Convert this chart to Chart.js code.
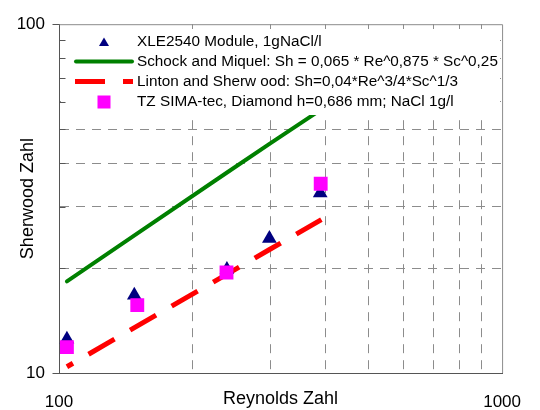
<!DOCTYPE html>
<html>
<head>
<meta charset="utf-8">
<script src="https://cdn.jsdelivr.net/npm/chart.js@4/dist/chart.umd.min.js"></script>
<style>
  body { margin: 0; background: #fff; }
  canvas { display: block; }
</style>
</head>
<body>
<canvas id="myChart" width="540" height="410"></canvas>
<script>
'use strict';
//Data
const xleRe = [104.2, 147.9, 239.3, 298.4, 388.6];
const xleSh = [12.5, 16.7, 19.8, 24.3, 32.8];
const lineRe = [104.2, 148, 239, 298, 391];
const schockSh = [18.3, 24.8, 37.5, 45.3, 57.0];
const lintonSh = [10.42, 13.49, 19.18, 22.56, 27.54];
const tzRe = [104.2, 150.2, 238.8, 389.6];
const tzSh = [11.86, 15.66, 19.41, 34.89];
//grid positions and labelled ticks
const xTicks = [100, 200, 300, 400, 500, 600, 700, 800, 900, 1000];
const yTicks = [10, 20, 30, 40, 50, 60, 70, 80, 90, 100];
const xTickLabels = [100, 1000];
const yTickLabels = [10, 100];
const seriesNames = [
  'XLE2540 Module, 1gNaCl/l',
  'Schock and Miquel: Sh = 0,065 * Re^0,875 * Sc^0,25',
  'Linton and Sherw ood: Sh=0,04*Re^3/4*Sc^1/3',
  'TZ SIMA-tec, Diamond h=0,686 mm; NaCl 1g/l'
];

const FONT = "'Liberation Sans', Arial, sans-serif";
const gridGrey = '#8c8c8c';
const axisGrey = '#555555';

function points(xs, ys){
  return xs.map((x, i) => ({x: x, y: ys[i]}));
}

function isLabel(list, v){
  return list.some(t => Math.abs(t - v) < 1e-6 * t);
}

//legend inside the plot, white box over grid
const boxLegend = {
  id: 'boxLegend',
  afterDatasetsDraw(chart){
    const ctx = chart.ctx;
    const a = chart.chartArea;
    ctx.save();
    ctx.fillStyle = '#fff';
    ctx.fillRect(a.left + 2, 29, 439, 86);

    const rowY = [42, 61.5, 81.5, 102];
    const symX = 104;
    const textX = 137;

    // triangle
    ctx.fillStyle = '#000080';
    ctx.beginPath();
    ctx.moveTo(symX, rowY[0] - 4.5);
    ctx.lineTo(symX + 5, rowY[0] + 4);
    ctx.lineTo(symX - 5, rowY[0] + 4);
    ctx.closePath();
    ctx.fill();

    // green line
    ctx.strokeStyle = '#008000';
    ctx.lineWidth = 4;
    ctx.lineCap = 'round';
    ctx.beginPath();
    ctx.moveTo(76, rowY[1]);
    ctx.lineTo(132, rowY[1]);
    ctx.stroke();

    // red dashed line
    ctx.strokeStyle = '#ff0000';
    ctx.lineWidth = 5;
    ctx.lineCap = 'butt';
    ctx.setLineDash([30, 18]);
    ctx.beginPath();
    ctx.moveTo(75, rowY[2]);
    ctx.lineTo(133, rowY[2]);
    ctx.stroke();
    ctx.setLineDash([]);

    // square
    ctx.fillStyle = '#ff00ff';
    ctx.fillRect(symX - 6.5, rowY[3] - 6.5, 13, 13);

    ctx.fillStyle = '#000';
    ctx.font = '15.3px ' + FONT;
    ctx.textBaseline = 'middle';
    ctx.textAlign = 'left';
    for(let i = 0; i < seriesNames.length; i++){
      ctx.fillText(seriesNames[i], textX, rowY[i]);
    }
    ctx.restore();
  }
};

//top/right frame and the small y ticks
const frame = {
  id: 'frame',
  afterDraw(chart){
    const ctx = chart.ctx;
    const a = chart.chartArea;
    const ys = chart.scales.y;
    ctx.save();
    ctx.lineWidth = 1;
    ctx.strokeStyle = gridGrey;
    ctx.beginPath();
    ctx.moveTo(a.left, a.top + 0.5);
    ctx.lineTo(a.right + 0.5, a.top + 0.5);
    ctx.lineTo(a.right + 0.5, a.bottom);
    ctx.stroke();

    ctx.strokeStyle = axisGrey;
    ctx.beginPath();
    ys.ticks.forEach(t => {
      const py = Math.round(ys.getPixelForValue(t.value)) + 0.5;
      const lx = Math.round(a.left) + 0.5;
      if(isLabel(yTickLabels, t.value)){
        ctx.moveTo(lx - 7, py);
        ctx.lineTo(lx, py);
      }else{
        ctx.moveTo(lx, py);
        ctx.lineTo(lx + 6, py);
      }
    });
    ctx.stroke();
    ctx.restore();
  }
};

const chart_myChart = document.getElementById('myChart').getContext('2d');
const chart = new Chart(chart_myChart, {
  type: 'scatter',
  data: {
    datasets: [{
      label: seriesNames[0],
      data: points(xleRe, xleSh),
      pointStyle: 'triangle',
      pointRadius: 8.5,
      backgroundColor: '#000080',
      borderColor: '#000080',
      borderWidth: 0,
      order: 1
    },
    {
      label: seriesNames[1],
      data: points(lineRe, schockSh),
      showLine: true,
      borderColor: '#008000',
      borderWidth: 4,
      borderCapStyle: 'round',
      pointRadius: 0,
      order: 3
    },
    {
      label: seriesNames[2],
      data: points(lineRe, lintonSh),
      showLine: true,
      borderColor: '#ff0000',
      borderWidth: 5,
      borderDash: [30, 18],
      borderDashOffset: 23,
      pointRadius: 0,
      order: 2
    },
    {
      label: seriesNames[3],
      data: points(tzRe, tzSh),
      pointStyle: 'rect',
      pointRadius: 9.8,
      backgroundColor: '#ff00ff',
      borderColor: '#ff00ff',
      borderWidth: 0,
      order: 0
    }]
  },
  options: {
    responsive: false,
    animation: false,
    devicePixelRatio: 1,
    events: [],
    layout: { padding: { top: 22, right: 36, bottom: 0, left: 0 } },
    plugins: {
      legend: { display: false },
      tooltip: { enabled: false }
    },
    scales: {
      x: {
        type: 'logarithmic',
        min: 100,
        max: 1000,
        afterBuildTicks: s => { s.ticks = xTicks.map(v => ({value: v})); },
        afterFit: s => { s.height = 37; },
        ticks: {
          autoSkip: false,
          maxRotation: 0,
          padding: 19,
          color: '#000',
          font: { family: FONT, size: 17 },
          callback: v => isLabel(xTickLabels, v) ? String(Math.round(v)) : ''
        },
        grid: {
          drawTicks: false,
          color: c => (c.tick && isLabel(xTickLabels, c.tick.value)) ? 'rgba(0,0,0,0)' : gridGrey
        },
        border: { display: true, color: axisGrey, width: 1, dash: [9, 7] },
        title: {
          display: true,
          text: 'Reynolds Zahl',
          color: '#000',
          font: { family: FONT, size: 18 },
          padding: { top: 0, bottom: 0 }
        }
      },
      y: {
        type: 'logarithmic',
        min: 10,
        max: 100,
        afterBuildTicks: s => { s.ticks = yTicks.map(v => ({value: v})); },
        afterFit: s => { s.width = 59; },
        ticks: {
          autoSkip: false,
          padding: 14,
          color: '#000',
          font: { family: FONT, size: 17 },
          callback: v => isLabel(yTickLabels, v) ? String(Math.round(v)) : ''
        },
        grid: {
          drawTicks: false,
          color: c => (c.tick && isLabel(yTickLabels, c.tick.value)) ? 'rgba(0,0,0,0)' : gridGrey
        },
        border: { display: true, color: axisGrey, width: 1, dash: [9, 7] },
        title: {
          display: true,
          text: 'Sherwood Zahl',
          color: '#000',
          font: { family: FONT, size: 18 },
          padding: { top: 17, bottom: 0 }
        }
      }
    }
  },
  plugins: [boxLegend, frame]
});
</script>
</body>
</html>
